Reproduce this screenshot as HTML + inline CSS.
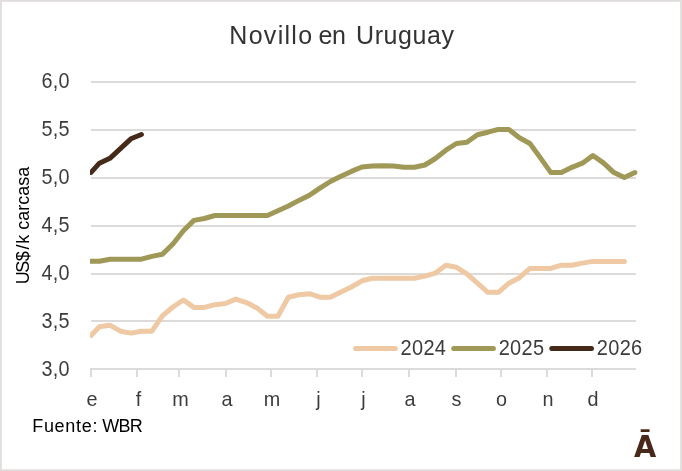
<!DOCTYPE html>
<html lang="es"><head><meta charset="utf-8"><title>Novillo en Uruguay</title>
<style>html,body{margin:0;padding:0;background:#fff}body{width:682px;height:471px;overflow:hidden}svg{display:block;will-change:transform}text{font-family:"Liberation Sans",sans-serif}</style></head><body>
<svg width="682" height="471" viewBox="0 0 682 471">
<rect x="0" y="0" width="682" height="471" fill="#ffffff"/>
<rect x="0.9" y="0.9" width="680.2" height="469.2" fill="none" stroke="#e1dddd" stroke-width="1.8"/>
<line x1="91.0" x2="635.9" y1="82.00" y2="82.00" stroke="#dddada" stroke-width="2"/>
<line x1="91.0" x2="635.9" y1="130.00" y2="130.00" stroke="#dddada" stroke-width="2"/>
<line x1="91.0" x2="635.9" y1="178.00" y2="178.00" stroke="#dddada" stroke-width="2"/>
<line x1="91.0" x2="635.9" y1="226.00" y2="226.00" stroke="#dddada" stroke-width="2"/>
<line x1="91.0" x2="635.9" y1="274.00" y2="274.00" stroke="#dddada" stroke-width="2"/>
<line x1="91.0" x2="635.9" y1="321.00" y2="321.00" stroke="#dddada" stroke-width="2"/>
<line x1="90.0" x2="635.9" y1="369.00" y2="369.00" stroke="#dddada" stroke-width="2"/>
<line x1="91.00" x2="91.00" y1="369.00" y2="376.9" stroke="#dddada" stroke-width="2"/>
<line x1="137.00" x2="137.00" y1="369.00" y2="376.9" stroke="#dddada" stroke-width="2"/>
<line x1="179.00" x2="179.00" y1="369.00" y2="376.9" stroke="#dddada" stroke-width="2"/>
<line x1="226.00" x2="226.00" y1="369.00" y2="376.9" stroke="#dddada" stroke-width="2"/>
<line x1="271.00" x2="271.00" y1="369.00" y2="376.9" stroke="#dddada" stroke-width="2"/>
<line x1="317.00" x2="317.00" y1="369.00" y2="376.9" stroke="#dddada" stroke-width="2"/>
<line x1="362.00" x2="362.00" y1="369.00" y2="376.9" stroke="#dddada" stroke-width="2"/>
<line x1="409.00" x2="409.00" y1="369.00" y2="376.9" stroke="#dddada" stroke-width="2"/>
<line x1="456.00" x2="456.00" y1="369.00" y2="376.9" stroke="#dddada" stroke-width="2"/>
<line x1="501.00" x2="501.00" y1="369.00" y2="376.9" stroke="#dddada" stroke-width="2"/>
<line x1="547.00" x2="547.00" y1="369.00" y2="376.9" stroke="#dddada" stroke-width="2"/>
<line x1="592.00" x2="592.00" y1="369.00" y2="376.9" stroke="#dddada" stroke-width="2"/>
<clipPath id="plotclip"><rect x="90.06" y="60" width="580" height="320"/></clipPath><g clip-path="url(#plotclip)">
<polyline points="91.1,335.5 99.4,326.8 109.9,325.2 120.4,331.2 130.9,333.1 141.4,331.3 151.9,331.2 162.4,315.8 172.9,307.0 183.4,300.0 193.9,307.4 204.4,307.4 214.9,304.7 225.4,303.5 235.9,299.1 246.4,302.6 256.9,307.9 267.4,316.3 277.9,316.3 288.4,297.3 298.9,294.7 309.4,293.7 319.9,297.2 330.4,297.2 340.9,291.9 351.4,287.0 361.9,280.8 372.4,278.2 382.9,278.2 393.4,278.2 403.9,278.2 414.4,278.2 424.9,276.1 435.4,273.1 445.9,265.2 456.4,267.3 466.9,273.8 477.4,283.2 487.9,292.3 498.4,292.3 508.9,283.2 519.4,277.7 529.9,268.4 540.4,268.4 550.9,268.4 561.4,265.2 571.9,265.2 582.4,263.1 592.9,261.4 603.4,261.4 613.9,261.4 624.4,261.4" fill="none" stroke="#eec9a4" stroke-width="5" stroke-linejoin="round" stroke-linecap="round"/>
<polyline points="91.1,261.3 99.4,261.3 109.9,259.2 120.4,259.2 130.9,259.2 141.4,259.2 151.9,256.4 162.4,254.3 172.9,244.0 183.4,230.8 193.9,220.4 204.4,218.5 214.9,215.5 225.4,215.5 235.9,215.5 246.4,215.5 256.9,215.5 267.4,215.5 277.9,210.8 288.4,206.0 298.9,200.4 309.4,195.3 319.9,188.1 330.4,181.5 340.9,176.2 351.4,171.4 361.9,167.0 372.4,166.1 382.9,165.8 393.4,166.1 403.9,167.3 414.4,167.3 424.9,165.0 435.4,158.5 445.9,150.2 456.4,143.5 466.9,142.2 477.4,134.7 487.9,132.2 498.4,129.4 508.9,129.4 519.4,137.7 529.9,143.5 540.4,157.9 550.9,172.6 561.4,172.6 571.9,167.3 582.4,163.2 592.9,155.5 603.4,162.9 613.9,172.6 624.4,177.5 634.9,172.6" fill="none" stroke="#9f9857" stroke-width="5" stroke-linejoin="round" stroke-linecap="round"/>
<polyline points="91.1,172.4 99.4,163.2 109.9,158.3 120.4,148.6 130.9,138.8 141.4,134.5" fill="none" stroke="#452a1a" stroke-width="5" stroke-linejoin="round" stroke-linecap="round"/>
</g>
<text y="43.6" font-size="25" fill="#333333"><tspan x="229.3" letter-spacing="1.3">Novillo</tspan> <tspan x="318.6" letter-spacing="-0.4">en</tspan> <tspan x="356.0" letter-spacing="0.6">Uruguay</tspan></text>
<text transform="translate(41.6,88.2) scale(1,1.10)" font-size="19.8" letter-spacing="0.2" fill="#3c3c3c">6,0</text>
<text transform="translate(41.6,136.2) scale(1,1.10)" font-size="19.8" letter-spacing="0.2" fill="#3c3c3c">5,5</text>
<text transform="translate(41.6,184.2) scale(1,1.10)" font-size="19.8" letter-spacing="0.2" fill="#3c3c3c">5,0</text>
<text transform="translate(41.6,232.2) scale(1,1.10)" font-size="19.8" letter-spacing="0.2" fill="#3c3c3c">4,5</text>
<text transform="translate(41.6,280.2) scale(1,1.10)" font-size="19.8" letter-spacing="0.2" fill="#3c3c3c">4,0</text>
<text transform="translate(41.6,328.2) scale(1,1.10)" font-size="19.8" letter-spacing="0.2" fill="#3c3c3c">3,5</text>
<text transform="translate(41.6,376.2) scale(1,1.10)" font-size="19.8" letter-spacing="0.2" fill="#3c3c3c">3,0</text>
<text transform="translate(92.0,406.2) scale(1,1.06)" font-size="19.8" fill="#3c3c3c" text-anchor="middle">e</text>
<text transform="translate(138.5,406.2) scale(1,1.06)" font-size="19.8" fill="#3c3c3c" text-anchor="middle">f</text>
<text transform="translate(180.5,406.2) scale(1,1.06)" font-size="19.8" fill="#3c3c3c" text-anchor="middle">m</text>
<text transform="translate(227.0,406.2) scale(1,1.06)" font-size="19.8" fill="#3c3c3c" text-anchor="middle">a</text>
<text transform="translate(272.0,406.2) scale(1,1.06)" font-size="19.8" fill="#3c3c3c" text-anchor="middle">m</text>
<text transform="translate(318.5,406.2) scale(1,1.06)" font-size="19.8" fill="#3c3c3c" text-anchor="middle">j</text>
<text transform="translate(363.5,406.2) scale(1,1.06)" font-size="19.8" fill="#3c3c3c" text-anchor="middle">j</text>
<text transform="translate(410.0,406.2) scale(1,1.06)" font-size="19.8" fill="#3c3c3c" text-anchor="middle">a</text>
<text transform="translate(456.5,406.2) scale(1,1.06)" font-size="19.8" fill="#3c3c3c" text-anchor="middle">s</text>
<text transform="translate(501.5,406.2) scale(1,1.06)" font-size="19.8" fill="#3c3c3c" text-anchor="middle">o</text>
<text transform="translate(548.0,406.2) scale(1,1.06)" font-size="19.8" fill="#3c3c3c" text-anchor="middle">n</text>
<text transform="translate(593.0,406.2) scale(1,1.06)" font-size="19.8" fill="#3c3c3c" text-anchor="middle">d</text>
<text transform="translate(29.4,225) rotate(-90)" font-size="18" fill="#000000" text-anchor="middle"><tspan dx="-0.4">U</tspan><tspan dx="-1.5">S</tspan><tspan dx="-0.7">$</tspan><tspan dx="1.9">/</tspan><tspan dx="0.7">k carcasa</tspan></text>
<line x1="355.6" x2="395.3" y1="348.5" y2="348.5" stroke="#eec9a4" stroke-width="5" stroke-linecap="round"/>
<text transform="translate(400.6,354.8) scale(1,1.08)" font-size="20" letter-spacing="0.3" fill="#3c3c3c">2024</text>
<line x1="453.7" x2="493.4" y1="348.5" y2="348.5" stroke="#9f9857" stroke-width="5" stroke-linecap="round"/>
<text transform="translate(498.7,354.8) scale(1,1.08)" font-size="20" letter-spacing="0.3" fill="#3c3c3c">2025</text>
<line x1="551.8" x2="591.5" y1="348.5" y2="348.5" stroke="#452a1a" stroke-width="5" stroke-linecap="round"/>
<text transform="translate(596.8,354.8) scale(1,1.08)" font-size="20" letter-spacing="0.3" fill="#3c3c3c">2026</text>
<text y="431.8" font-size="18" fill="#000000"><tspan x="32.2" letter-spacing="0.7">Fuente:</tspan> <tspan x="102.3" letter-spacing="-0.8">WBR</tspan></text>
<text transform="translate(645,456.6) scale(0.93,1)" x="0" y="0" font-size="30.9" font-weight="bold" style="font-family:'DejaVu Sans','Liberation Sans',sans-serif" fill="#48281a" text-anchor="middle">Ā</text>
</svg></body></html>
